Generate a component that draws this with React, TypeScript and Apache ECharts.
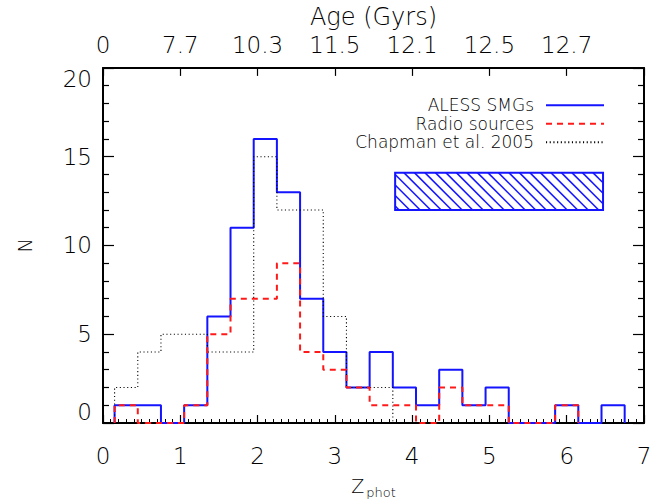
import React, { useEffect, useRef } from "react";
import * as echarts from "echarts";

// Bin edges (redshift) of the histograms
const binEdges = [
  0.15, 0.45, 0.75, 1.05, 1.35, 1.65, 1.95, 2.25, 2.55, 2.85, 3.15, 3.45,
  3.75, 4.05, 4.35, 4.65, 4.95, 5.25, 5.55, 5.85, 6.15, 6.45, 6.75,
];
// Counts per bin
const alessCounts = [1, 1, 0, 1, 6, 11, 16, 13, 7, 4, 2, 4, 2, 1, 3, 1, 2, 0, 0, 1, 0, 1];
const radioCounts = [1, 0, 0, 1, 5, 7, 7, 9, 4, 3, 2, 1, 1, 0, 2, 1, 1, 0, 0, 1];
const chapmanCounts = [2, 4, 5, 5, 4, 4, 15, 12, 12, 6, 2, 2];

// Hatched box (redshift range, N range)
const hatchZ = [3.78, 6.47];
const hatchN = [12, 14.1];

// Axis labels
const zTicks = [0, 1, 2, 3, 4, 5, 6, 7];
const ageLabels = ["0", "7.7", "10.3", "11.5", "12.1", "12.5", "12.7"];

const seriesNames = ["ALESS SMGs", "Radio sources", "Chapman et al. 2005"];

const FONT = "'DejaVu Sans', sans-serif";
const TXT = "#000";
const FW = 200;

function stepData(counts: number[]): number[][] {
  const pts: number[][] = [[binEdges[0], 0]];
  for (let k = 0; k < counts.length; k++) pts.push([binEdges[k], counts[k]]);
  pts.push([binEdges[counts.length], 0]);
  return pts;
}

export default function App() {
  const ref = useRef<HTMLDivElement>(null);
  useEffect(() => {
    document.body.style.margin = "0";
    if (!ref.current) return;
    const chart = echarts.init(ref.current, undefined, { renderer: "svg" });
    const blue = "#1414ff";
    const red = "#ff1a1a";
    const axisCommon = {
      axisLine: { show: true, onZero: false, lineStyle: { color: "#000", width: 2 } },
      splitLine: { show: false },
    };
    chart.setOption({
      animation: false,
      backgroundColor: "#fff",
      textStyle: { fontFamily: FONT, fontWeight: FW },
      grid: { left: 103, right: 23, top: 67, bottom: 81 },
      legend: {
        orient: "vertical",
        right: 57,
        top: 91,
        align: "right",
        itemWidth: 58,
        itemHeight: 10,
        itemGap: 0,
        itemStyle: { opacity: 0 },
        data: seriesNames,
        textStyle: {
          fontFamily: FONT,
          fontWeight: FW,
          fontSize: 17,
          color: TXT,
          lineHeight: 18.5,
          padding: [0, 7, 0, 0],
        },
      },
      xAxis: [
        {
          type: "value",
          position: "bottom",
          min: 0,
          max: 7,
          interval: 1,
          ...axisCommon,
          axisTick: { show: true, inside: true, length: 8, lineStyle: { color: "#000", width: 1.2 } },
          minorTick: { show: true, splitNumber: 10, length: 4, lineStyle: { color: "#000", width: 1 } },
          axisLabel: {
            fontSize: 23,
            color: TXT,
            margin: 21,
            fontFamily: FONT,
            fontWeight: FW,
            formatter: (v: number) => (zTicks.includes(v) ? String(v) : ""),
          },
          name: "{z|Z}{sub|phot}",
          nameLocation: "middle",
          nameGap: 46,
          nameTextStyle: {
            rich: {
              z: { fontSize: 19, fontFamily: FONT, fontWeight: FW, color: TXT, verticalAlign: "top", lineHeight: 22 },
              sub: { fontSize: 13, fontFamily: FONT, fontWeight: FW, color: TXT, verticalAlign: "bottom", lineHeight: 13, padding: [14, 0, 0, 2] },
            },
          },
        },
        {
          type: "value",
          position: "top",
          min: 0,
          max: 7,
          interval: 1,
          ...axisCommon,
          axisTick: { show: true, inside: true, length: 8, lineStyle: { color: "#000", width: 1.2 } },
          minorTick: { show: false },
          axisLabel: {
            fontSize: 23,
            color: TXT,
            margin: 11,
            fontFamily: FONT,
            fontWeight: FW,
            formatter: (v: number) => ageLabels[Math.round(v)] ?? "",
          },
          name: "Age (Gyrs)",
          nameLocation: "middle",
          nameGap: 35,
          nameTextStyle: { fontSize: 24, color: TXT, fontFamily: FONT, fontWeight: FW },
        },
      ],
      yAxis: [
        {
          type: "value",
          position: "left",
          min: 0,
          max: 20,
          interval: 5,
          ...axisCommon,
          axisTick: { show: true, inside: true, length: 11, lineStyle: { color: "#000", width: 1.2 } },
          minorTick: { show: true, splitNumber: 5, length: 6, lineStyle: { color: "#000", width: 1.2 } },
          axisLabel: {
            fontSize: 23,
            color: TXT,
            margin: 11,
            fontFamily: FONT,
            fontWeight: FW,
            verticalAlignMinLabel: "bottom",
            verticalAlignMaxLabel: "top",
          },
          name: "N",
          nameLocation: "middle",
          nameGap: 69,
          nameRotate: 90,
          nameTextStyle: { fontSize: 19, color: TXT, fontFamily: FONT, fontWeight: FW },
        },
        {
          type: "value",
          position: "right",
          min: 0,
          max: 20,
          interval: 5,
          ...axisCommon,
          axisTick: { show: true, inside: true, length: 11, lineStyle: { color: "#000", width: 1.2 } },
          minorTick: { show: true, splitNumber: 5, length: 6, lineStyle: { color: "#000", width: 1.2 } },
          axisLabel: { show: false },
        },
      ],
      series: [
        {
          name: seriesNames[0],
          type: "line",
          step: "end",
          symbol: "none",
          data: stepData(alessCounts),
          lineStyle: { color: blue, width: 2 },
          itemStyle: { color: blue },
          z: 3,
        },
        {
          name: seriesNames[1],
          type: "line",
          step: "end",
          symbol: "none",
          data: stepData(radioCounts),
          lineStyle: { color: red, width: 2, type: [6, 5] },
          itemStyle: { color: red },
          z: 5,
        },
        {
          name: seriesNames[2],
          type: "line",
          step: "end",
          symbol: "none",
          data: stepData(chapmanCounts),
          lineStyle: { color: "#000", width: 1.1, type: [1.1, 2.6] },
          itemStyle: { color: "#000" },
          z: 4,
        },
        {
          type: "custom",
          silent: true,
          data: [[hatchZ[0], hatchN[0], hatchZ[1], hatchN[1]]],
          renderItem: (_params: any, api: any) => {
            const p0 = api.coord([api.value(0), api.value(3)]);
            const p1 = api.coord([api.value(2), api.value(1)]);
            const x0 = p0[0], y0 = p0[1], x1 = p1[0], y1 = p1[1];
            const h = y1 - y0;
            const step = 10.5;
            const children: any[] = [];
            for (let o = x0 - h + 4; o < x1; o += step) {
              let sx = o, sy = y0, ex = o + h, ey = y1;
              if (sx < x0) { sy = y0 + (x0 - sx); sx = x0; }
              if (ex > x1) { ey = y1 - (ex - x1); ex = x1; }
              if (ex - sx < 0.5) continue;
              children.push({
                type: "line",
                shape: { x1: sx, y1: sy, x2: ex, y2: ey },
                style: { stroke: blue, lineWidth: 1.5 },
              });
            }
            children.push({
              type: "rect",
              shape: { x: x0, y: y0, width: x1 - x0, height: h },
              style: { fill: "none", stroke: blue, lineWidth: 2 },
            });
            return { type: "group", children };
          },
          z: 2,
        },
      ],
    });
    return () => chart.dispose();
  }, []);
  return (
    <div
      ref={ref}
      style={{ position: "absolute", left: 0, top: 0, width: 667, height: 504 }}
    />
  );
}
